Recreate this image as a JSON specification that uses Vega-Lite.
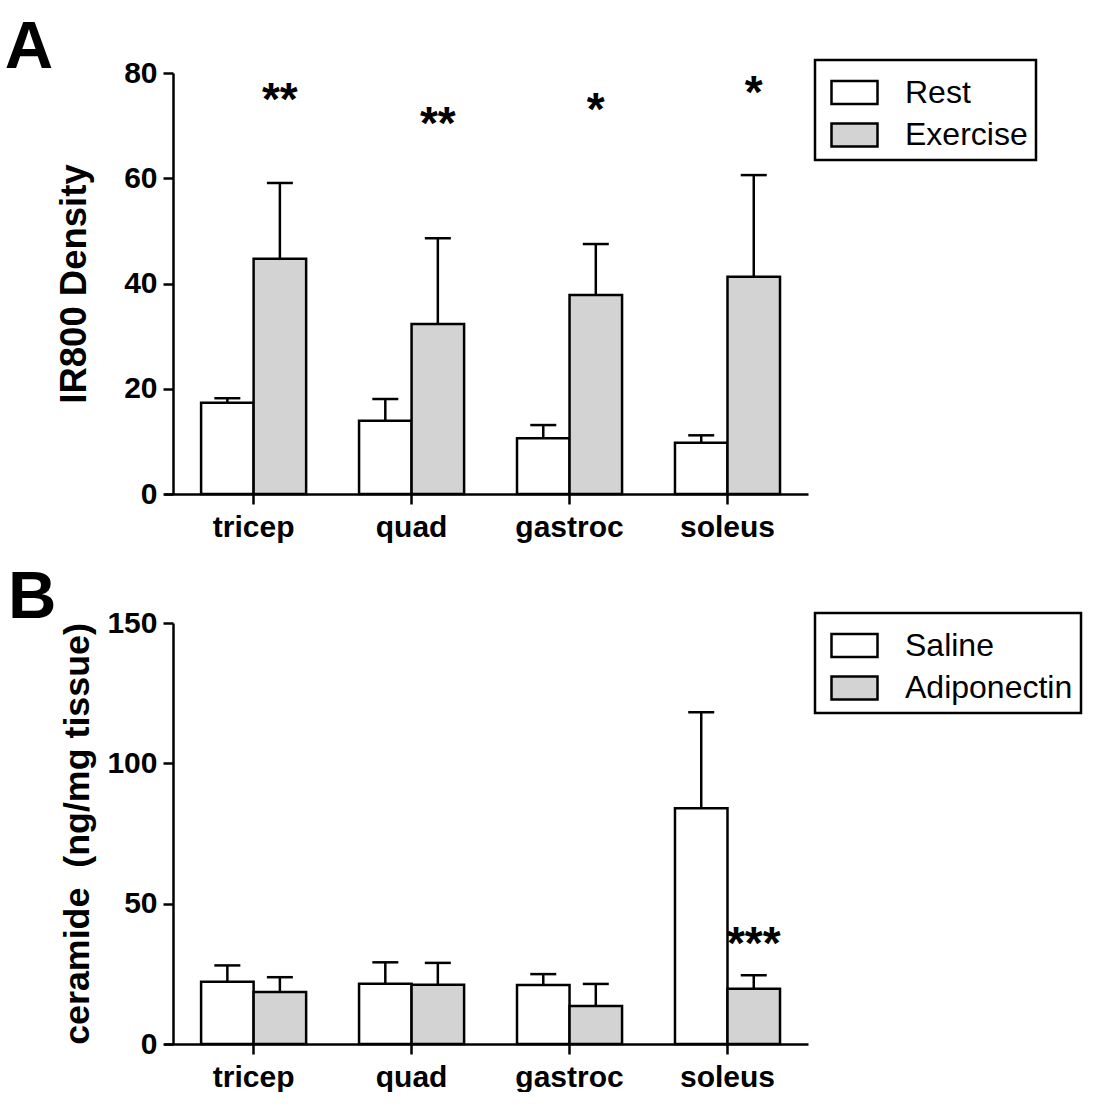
{
  "$schema": "https://vega.github.io/schema/vega-lite/v6.json",
  "padding": {"left": 4, "top": 14, "right": 0, "bottom": 0},
  "autosize": {"type": "pad"},
  "background": "white",
  "spacing": 22,
  "resolve": {"scale": {"x": "independent", "y": "independent", "fill": "independent", "xOffset": "independent"}, "legend": {"fill": "independent"}},
  "config": {
    "view": {"stroke": null},
    "font": "Liberation Sans",
    "axis": {
      "domainColor": "black", "domainWidth": 2.5, "tickColor": "black", "tickWidth": 2.5, "tickSize": 10,
      "labelColor": "black", "labelFontSize": 30, "labelFontWeight": "bold", "labelFont": "Liberation Sans",
      "titleFont": "Liberation Sans", "titleFontSize": 36.5, "titleFontWeight": "bold", "titleColor": "black", "grid": false
    },
    "legend": {
      "orient": "none", "title": null,
      "symbolType": "M-1,-0.5H1V0.5H-1Z", "symbolSize": 2116, "symbolStrokeColor": "black", "symbolStrokeWidth": 2.5, "symbolOpacity": 1,
      "symbolOffset": 7,
      "labelFont": "Liberation Sans", "labelFontSize": 32, "labelColor": "black", "labelOffset": 26, "labelLimit": 0,
      "strokeColor": "black", "strokeWidth": 2.5, "padding": 8, "rowPadding": 1.5
    },
    "title": {"font": "Liberation Sans", "fontSize": 67, "fontWeight": "bold", "color": "black", "anchor": "start", "frame": "bounds", "baseline": "alphabetic", "offset": 0}
  },
  "vconcat": [
    {
      "title": {"text": "A", "dx": -52, "dy": 28},
      "width": 644, "height": 421,
      "data": {"values": [
        {"muscle": "tricep", "group": "Rest", "mean": 17.35, "upper": 18.2},
        {"muscle": "tricep", "group": "Exercise", "mean": 44.7, "upper": 59.1, "sig": "**", "sigY": 74.7},
        {"muscle": "quad", "group": "Rest", "mean": 13.9, "upper": 18.05},
        {"muscle": "quad", "group": "Exercise", "mean": 32.3, "upper": 48.6, "sig": "**", "sigY": 70.1},
        {"muscle": "gastroc", "group": "Rest", "mean": 10.6, "upper": 13.1},
        {"muscle": "gastroc", "group": "Exercise", "mean": 37.8, "upper": 47.5, "sig": "*", "sigY": 72.8},
        {"muscle": "soleus", "group": "Rest", "mean": 9.75, "upper": 11.15},
        {"muscle": "soleus", "group": "Exercise", "mean": 41.3, "upper": 60.6, "sig": "*", "sigY": 76.0}
      ]},
      "encoding": {
        "x": {"field": "muscle", "type": "nominal", "sort": ["tricep", "quad", "gastroc", "soleus"], "title": null,
              "scale": {"paddingInner": 0.335, "paddingOuter": 0.206, "align": 0.57},
              "axis": {"labelAngle": 0, "labelPadding": 8}},
        "xOffset": {"field": "group", "type": "nominal", "sort": ["Rest", "Exercise"], "scale": {"paddingInner": 0, "paddingOuter": 0}}
      },
      "layer": [
        {"mark": {"type": "bar", "stroke": "black", "strokeWidth": 2.5},
         "encoding": {
           "y": {"field": "mean", "type": "quantitative", "scale": {"domain": [0, 80], "nice": false}, "title": "IR800 Density",
                 "axis": {"values": [0, 20, 40, 60, 80], "offset": -9, "labelPadding": 6, "titlePadding": 30}},
           "fill": {"field": "group", "type": "nominal", "scale": {"domain": ["Rest", "Exercise"], "range": ["white", "#d3d3d3"]},
                    "legend": {"legendX": 651, "legendY": -13}}
         }},
        {"mark": {"type": "rule", "strokeWidth": 2.5, "color": "black"},
         "encoding": {"y": {"field": "mean", "type": "quantitative"}, "y2": {"field": "upper"}}},
        {"mark": {"type": "tick", "thickness": 2.5, "size": 26, "color": "black", "opacity": 1},
         "encoding": {"y": {"field": "upper", "type": "quantitative"}}},
        {"transform": [{"filter": "isValid(datum.sig)"}],
         "mark": {"type": "text", "fontSize": 46, "fontWeight": "bold", "baseline": "middle", "align": "center", "color": "black"},
         "encoding": {"y": {"field": "sigY", "type": "quantitative"}, "text": {"field": "sig"}}}
      ]
    },
    {
      "title": {"text": "B", "dx": -52, "dy": 28},
      "width": 644, "height": 421,
      "data": {"values": [
        {"muscle": "tricep", "group": "Saline", "mean": 22.2, "upper": 28.0},
        {"muscle": "tricep", "group": "Adiponectin", "mean": 18.5, "upper": 23.8},
        {"muscle": "quad", "group": "Saline", "mean": 21.5, "upper": 29.1},
        {"muscle": "quad", "group": "Adiponectin", "mean": 21.1, "upper": 28.9},
        {"muscle": "gastroc", "group": "Saline", "mean": 21.0, "upper": 24.9},
        {"muscle": "gastroc", "group": "Adiponectin", "mean": 13.5, "upper": 21.4},
        {"muscle": "soleus", "group": "Saline", "mean": 84.0, "upper": 118.2},
        {"muscle": "soleus", "group": "Adiponectin", "mean": 19.7, "upper": 24.5, "sig": "***", "sigY": 35.3}
      ]},
      "encoding": {
        "x": {"field": "muscle", "type": "nominal", "sort": ["tricep", "quad", "gastroc", "soleus"], "title": null,
              "scale": {"paddingInner": 0.335, "paddingOuter": 0.206, "align": 0.57},
              "axis": {"labelAngle": 0, "labelPadding": 8}},
        "xOffset": {"field": "group", "type": "nominal", "sort": ["Saline", "Adiponectin"], "scale": {"paddingInner": 0, "paddingOuter": 0}}
      },
      "layer": [
        {"mark": {"type": "bar", "stroke": "black", "strokeWidth": 2.5},
         "encoding": {
           "y": {"field": "mean", "type": "quantitative", "scale": {"domain": [0, 150], "nice": false}, "title": "ceramide \u00a0(ng/mg tissue)",
                 "axis": {"values": [0, 50, 100, 150], "offset": -9, "labelPadding": 6, "titlePadding": 10, "titleFontSize": 35.8}},
           "fill": {"field": "group", "type": "nominal", "scale": {"domain": ["Saline", "Adiponectin"], "range": ["white", "#d3d3d3"]},
                    "legend": {"legendX": 651, "legendY": -10}}
         }},
        {"mark": {"type": "rule", "strokeWidth": 2.5, "color": "black"},
         "encoding": {"y": {"field": "mean", "type": "quantitative"}, "y2": {"field": "upper"}}},
        {"mark": {"type": "tick", "thickness": 2.5, "size": 26, "color": "black", "opacity": 1},
         "encoding": {"y": {"field": "upper", "type": "quantitative"}}},
        {"transform": [{"filter": "isValid(datum.sig)"}],
         "mark": {"type": "text", "fontSize": 46, "fontWeight": "bold", "baseline": "middle", "align": "center", "color": "black"},
         "encoding": {"y": {"field": "sigY", "type": "quantitative"}, "text": {"field": "sig"}}}
      ]
    }
  ]
}
